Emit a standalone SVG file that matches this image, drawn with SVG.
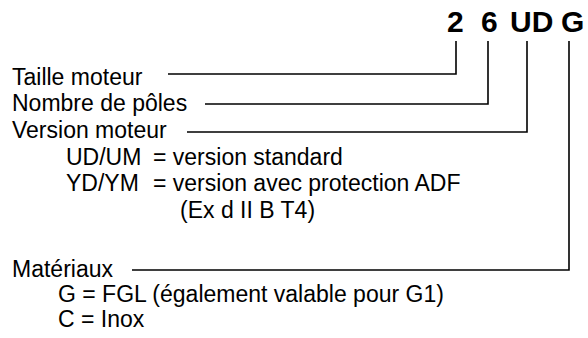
<svg xmlns="http://www.w3.org/2000/svg" width="588" height="338" viewBox="0 0 588 338">
<style>
text{font-family:"Liberation Sans",Arial,sans-serif;fill:#000}
.t{font-size:23px}
.h{font-size:30px;font-weight:bold}
.c{fill:none;stroke:#000;stroke-width:1.6}
</style>
<rect width="588" height="338" fill="#fff"/>
<g id="code">
<text class="h" x="447" y="32">2</text>
<text class="h" x="481" y="32">6</text>
<text class="h" x="510" y="32">UD</text>
<text class="h" x="561" y="32">G</text>
</g>
<g id="taille"><text class="t" x="12" y="85">Taille moteur</text></g>
<g id="poles"><text class="t" x="12" y="111">Nombre de pôles</text></g>
<g id="version">
<text class="t" x="12" y="138">Version moteur</text>
<text class="t" x="66" y="165">UD/UM</text>
<text class="t" x="153" y="165">= version standard</text>
<text class="t" x="66" y="191">YD/YM</text>
<text class="t" x="153" y="191">= version avec protection ADF</text>
<text class="t" x="180" y="218">(Ex d II B T4)</text>
</g>
<g id="materiaux">
<text class="t" x="12" y="277">Matériaux</text>
<text class="t" x="58" y="302">G = FGL (également valable pour G1)</text>
<text class="t" x="58" y="327">C = Inox</text>
</g>
<g id="connectors">
<polyline class="c" points="168,74 456,74 456,41"/>
<polyline class="c" points="205,104 488,104 488,41"/>
<polyline class="c" points="187,132 527,132 527,41"/>
<polyline class="c" points="132,270 569,270 569,41"/>
</g>
</svg>
